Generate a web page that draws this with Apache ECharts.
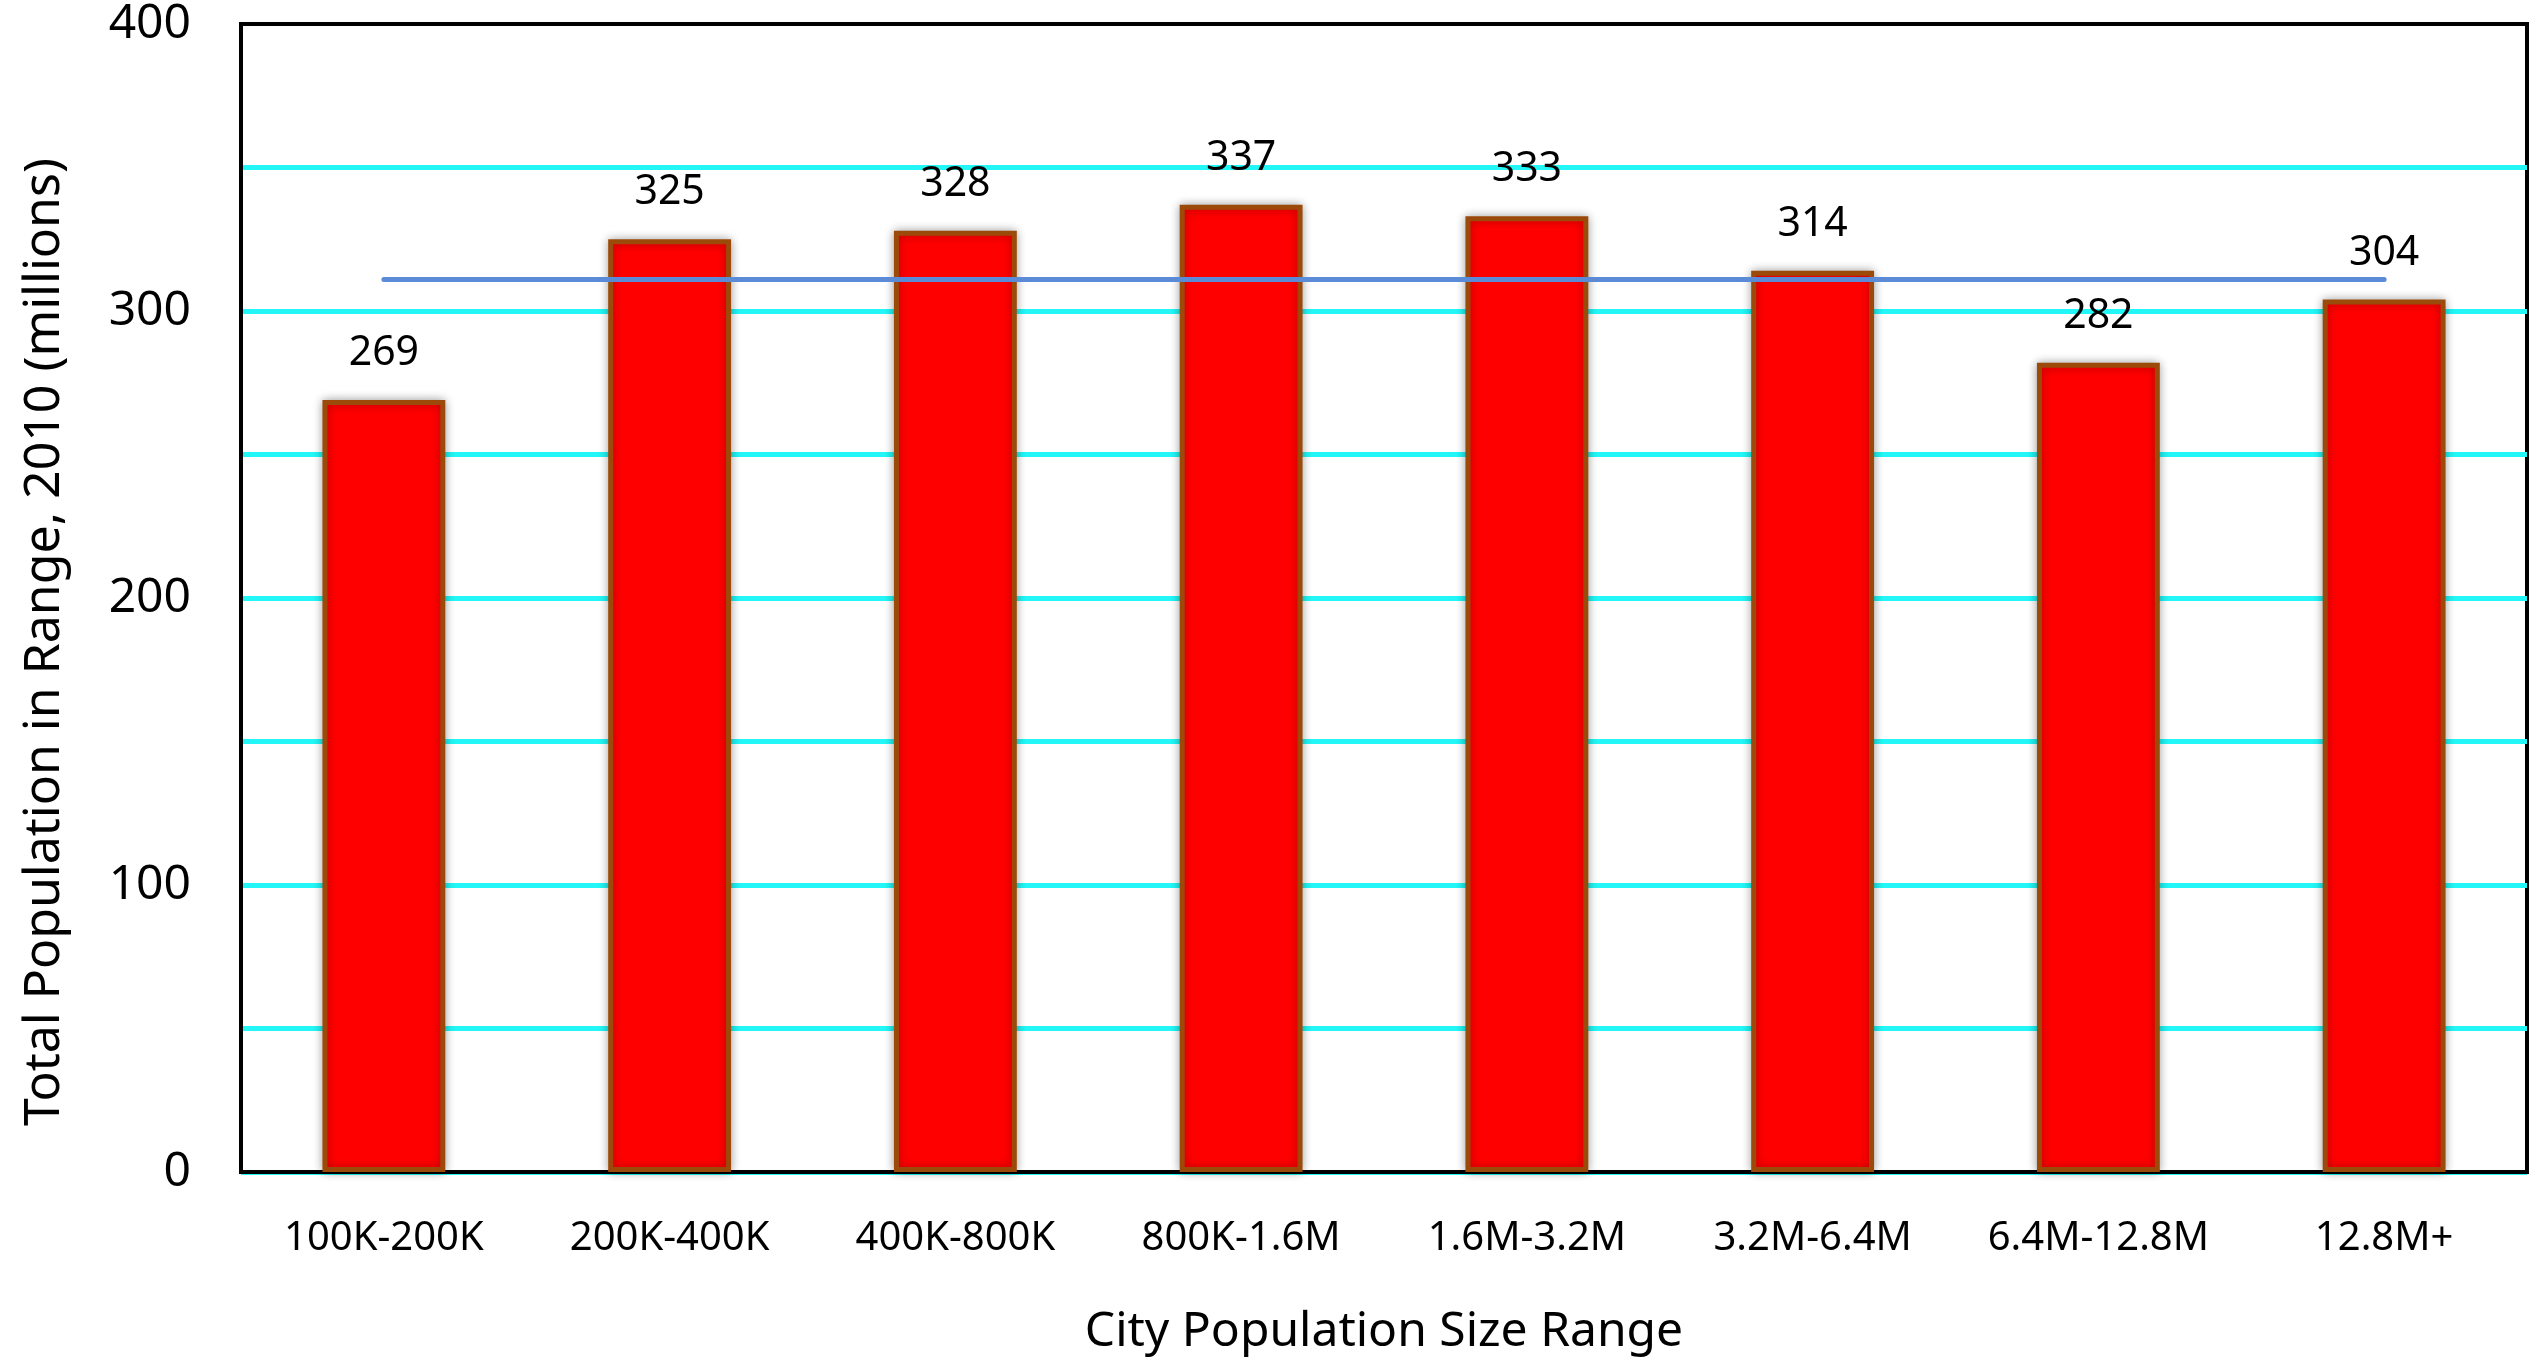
<!DOCTYPE html>
<html>
<head>
<meta charset="utf-8">
<title>City Population Size Range</title>
<script src="https://cdn.jsdelivr.net/npm/echarts@6/dist/echarts.min.js"></script>
<style>
  html, body { margin: 0; padding: 0; background: #ffffff; }
  #chart { width: 2535px; height: 1366px; }
</style>
</head>
<body>
<div id="chart"></div>
<script>
// Size classes of cities
const categories = ['100K-200K', '200K-400K', '400K-800K', '800K-1.6M', '1.6M-3.2M', '3.2M-6.4M', '6.4M-12.8M', '12.8M+'];
// Total population living in cities of each class, 2010 (millions)
const populations = [269, 325, 328, 337, 333, 314, 282, 304];
// Mean level across all classes
const meanLine = [311, 311, 311, 311, 311, 311, 311, 311];
// Labelled values on the vertical axis
const yTickLabels = [0, 100, 200, 300, 400];

const FONT = '"Noto Sans", "Open Sans", sans-serif';

const chart = echarts.init(document.getElementById('chart'));
chart.setOption({
  backgroundColor: '#ffffff',
  animation: false,
  grid: {
    left: 241, right: 8, top: 24, bottom: 194,
    show: true, borderColor: '#000000', borderWidth: 4
  },
  xAxis: {
    type: 'category',
    data: categories,
    name: 'City Population Size Range',
    nameLocation: 'middle',
    nameGap: 136,
    nameTextStyle: { fontFamily: FONT, fontSize: 48, color: '#000000' },
    axisLine: { lineStyle: { color: '#000000', width: 4 } },
    axisTick: { show: false },
    axisLabel: { interval: 0, fontFamily: FONT, fontSize: 40, color: '#000000', margin: 47 }
  },
  yAxis: {
    type: 'value',
    min: 0, max: 400, interval: 50,
    name: 'Total Population in Range, 2010 (millions)',
    nameLocation: 'middle',
    nameGap: 171,
    nameTextStyle: { fontFamily: FONT, fontSize: 50, color: '#000000', padding: [0, 88, 0, 0] },
    axisLine: { show: true, lineStyle: { color: '#000000', width: 4 } },
    axisTick: { show: false },
    axisLabel: {
      fontFamily: FONT, fontSize: 48, color: '#000000', margin: 50,
      padding: [12, 0, 0, 0],
      formatter: v => (yTickLabels.includes(v) ? String(v) : '')
    },
    splitLine: { show: true, showMaxLine: false, lineStyle: { color: '#22F6F6', width: 5 } }
  },
  series: [
    {
      type: 'bar',
      data: populations,
      barWidth: '43%',
      itemStyle: {
        color: '#FF0000',
        borderColor: '#9B4A0A',
        borderWidth: 5,
        shadowColor: 'rgba(0,0,0,0.3)',
        shadowBlur: 10
      },
      label: {
        show: true, position: 'top', distance: 26,
        fontFamily: FONT, fontSize: 41, color: '#000000'
      },
      z: 2
    },
    {
      type: 'line',
      data: meanLine,
      symbol: 'none',
      lineStyle: { color: '#5B8BD6', width: 5, cap: 'round' },
      z: 3
    }
  ]
});
</script>
</body>
</html>
